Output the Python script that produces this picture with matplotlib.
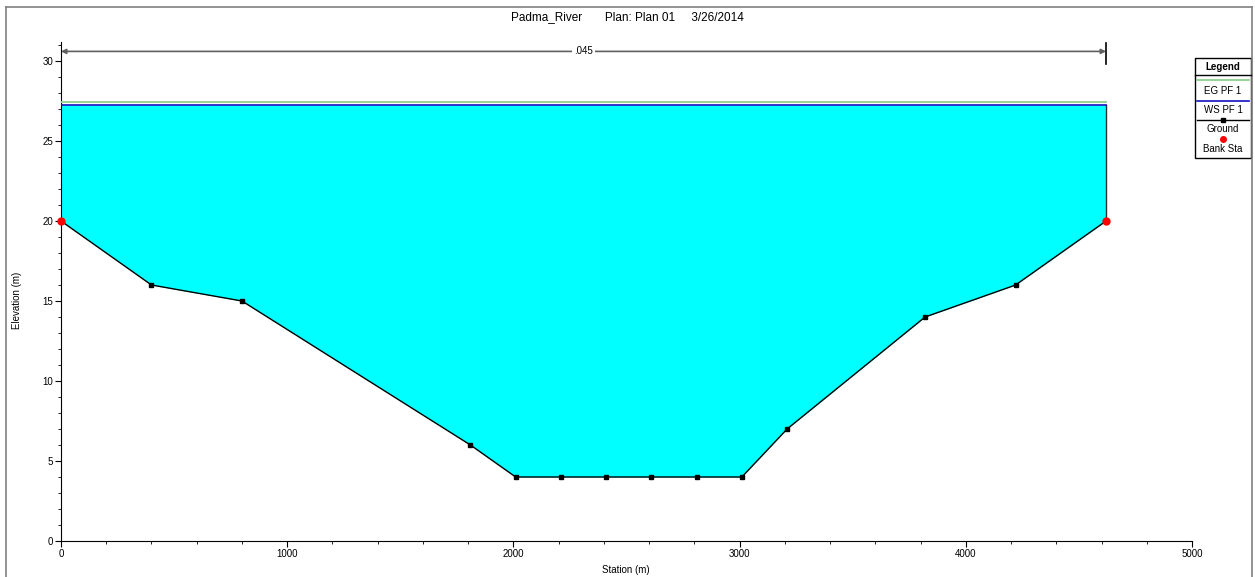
import matplotlib
matplotlib.use("Agg")
import matplotlib.pyplot as plt
from matplotlib.lines import Line2D
from matplotlib.patches import Rectangle
from matplotlib.ticker import MultipleLocator

plt.rcParams['font.family'] = ['Liberation Sans', 'DejaVu Sans']

# Cross-section geometry (station in m, elevation in m)
station = [0, 400, 800, 1810, 2010, 2210, 2410, 2610, 2810, 3010, 3210, 3820, 4220, 4620]
elevation = [20, 16, 15, 6, 4, 4, 4, 4, 4, 4, 7, 14, 16, 20]
bank_station = [0, 4620]
bank_elevation = [20, 20]
ws_elev = 27.25
eg_elev = 27.43
manning_n = ".045"
title = "Padma_River       Plan: Plan 01     3/26/2014"

W, H = 1255, 577
fig = plt.figure(figsize=(W / 100, H / 100), dpi=100)

def fx(px):
    return px / W

def fy(py):
    return 1 - py / H

# outer frame
for xs, ys in [([6, 6], [7, 577]), ([6, 1252], [7, 7]), ([1252, 1252], [7, 577])]:
    fig.add_artist(Line2D([fx(x) for x in xs], [fy(y) for y in ys], color='#808080', lw=1.2))

ax_left, ax_right = 61, 1192
ax_bottom, ax_top = 541, 41.8
ax = fig.add_axes([fx(ax_left), fy(ax_bottom), (ax_right - ax_left) / W, (ax_bottom - ax_top) / H])
ax.set_xlim(0, 5000)
ax.set_ylim(0, 31.2)

# water body
ax.fill_between(station, elevation, ws_elev, color='#00FFFF', lw=0, zorder=1)
ax.plot([station[-1], station[-1]], [elevation[-1], ws_elev], color='#303030', lw=1, zorder=2)
ax.plot([station[0], station[-1]], [eg_elev, eg_elev], color='#8fd08f', lw=1.3, zorder=3)
ax.plot([station[0], station[-1]], [ws_elev, ws_elev], color='#1010c0', lw=1.2, zorder=3)
ax.plot(station, elevation, color='black', lw=1, marker='s', ms=3.5, zorder=4)
ax.plot(bank_station, bank_elevation, 'o', color='red', ms=5, zorder=5, clip_on=False)

# Manning's n span arrow
arrow_y = 30.6
ax.annotate('', xy=(station[0], arrow_y), xytext=(station[-1], arrow_y),
            arrowprops=dict(arrowstyle='<|-|>', color='#606060', lw=1.2,
                            mutation_scale=7, shrinkA=0, shrinkB=0), annotation_clip=False)
ax.plot([station[-1], station[-1]], [29.8, 31.1], color='black', lw=1.2, clip_on=False)
ax.text((station[0] + station[-1]) / 2, arrow_y, manning_n, ha='center', va='center',
        fontsize=7, bbox=dict(facecolor='white', edgecolor='none', pad=1.5))

ax.spines['top'].set_visible(False)
ax.spines['right'].set_visible(False)
ax.xaxis.set_major_locator(MultipleLocator(1000))
ax.xaxis.set_minor_locator(MultipleLocator(200))
ax.yaxis.set_major_locator(MultipleLocator(5))
ax.yaxis.set_minor_locator(MultipleLocator(1))
ax.tick_params(which='major', length=4, labelsize=7, pad=1.5)
ax.tick_params(which='minor', length=2.5)

fig.text(fx(626), fy(570), "Station (m)", ha='center', va='center', fontsize=7)
fig.text(fx(17), fy(300), "Elevation (m)", ha='center', va='center', fontsize=7, rotation=90)
fig.text(fx(627), fy(17), title, ha='center', va='center', fontsize=8.5)

# legend box
lx0, lx1, ly0, ly1 = 1195, 1251, 58, 158
fig.add_artist(Rectangle((fx(lx0), fy(ly1)), (lx1 - lx0) / W, (ly1 - ly0) / H,
                         facecolor='white', edgecolor='black', lw=1))
fig.add_artist(Line2D([fx(lx0), fx(lx1)], [fy(75), fy(75)], color='black', lw=1))
cx = (lx0 + lx1) / 2
fig.text(fx(cx), fy(66.5), "Legend", ha='center', va='center', fontsize=7, weight='bold')
fig.add_artist(Line2D([fx(lx0 + 2), fx(lx1 - 2)], [fy(80), fy(80)], color='#8fd08f', lw=1.3))
fig.text(fx(cx), fy(90.5), "EG PF 1", ha='center', va='center', fontsize=7)
fig.add_artist(Line2D([fx(lx0 + 2), fx(lx1 - 2)], [fy(101), fy(101)], color='#1010c0', lw=1.2))
fig.text(fx(cx), fy(110.5), "WS PF 1", ha='center', va='center', fontsize=7)
fig.add_artist(Line2D([fx(lx0 + 2), fx(lx1 - 2)], [fy(119.5), fy(119.5)], color='black', lw=1))
fig.add_artist(Line2D([fx(cx)], [fy(119.5)], color='black', marker='s', ms=3.5, ls='none'))
fig.text(fx(cx), fy(129.5), "Ground", ha='center', va='center', fontsize=7)
fig.add_artist(Line2D([fx(cx)], [fy(138.5)], color='red', marker='o', ms=4, ls='none'))
fig.text(fx(cx), fy(148.5), "Bank Sta", ha='center', va='center', fontsize=7)

fig.savefig("out.png", dpi=100)
